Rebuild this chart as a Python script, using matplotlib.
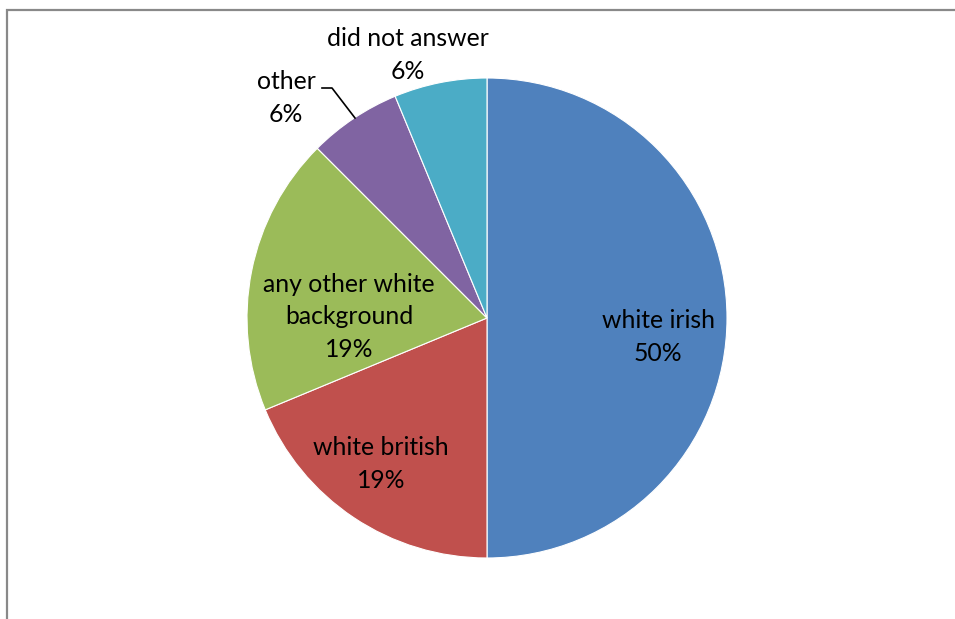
import matplotlib.pyplot as plt
from matplotlib.patches import Rectangle

categories = ['white irish', 'white british', 'any other white\nbackground', 'other', 'did not answer']
counts = [8, 3, 3, 1, 1]
pct_labels = ['50%', '19%', '19%', '6%', '6%']
colors = ['#4F81BD', '#C0504D', '#9BBB59', '#8064A2', '#4BACC6']

W, H = 955, 619
fig = plt.figure(figsize=(W / 100, H / 100), dpi=100)
ax = fig.add_axes([0, 0, 1, 1])

# outer chart frame (runs off the right and bottom edges)
ax.add_patch(Rectangle((7, -20), W + 50, H - 10 + 20, fill=False,
                       edgecolor='#898989', linewidth=1.6))

cx, cy, r = 487, H - 318, 240
ax.pie(counts, colors=colors, startangle=90, counterclock=False,
       center=(cx, cy), radius=r, frame=True,
       wedgeprops=dict(edgecolor='white', linewidth=0.8))
ax.set_xlim(0, W)
ax.set_ylim(0, H)
ax.axis('off')

# label positions in pixel coords (x, y from top)
label_pos = [(658, 337), (381, 464), (349, 317), (286, 98), (408, 55)]
for name, pct, (x, y) in zip(categories, pct_labels, label_pos):
    ax.text(x, H - y, name + '\n' + pct, ha='center', va='center',
            fontsize=17.8, family='Lato', linespacing=1.5, color='black')

# leader line for "other"
ax.plot([322, 332, 355], [H - 88, H - 88, H - 118], color='black', lw=1.2)

fig.savefig('out.png', dpi=100)
